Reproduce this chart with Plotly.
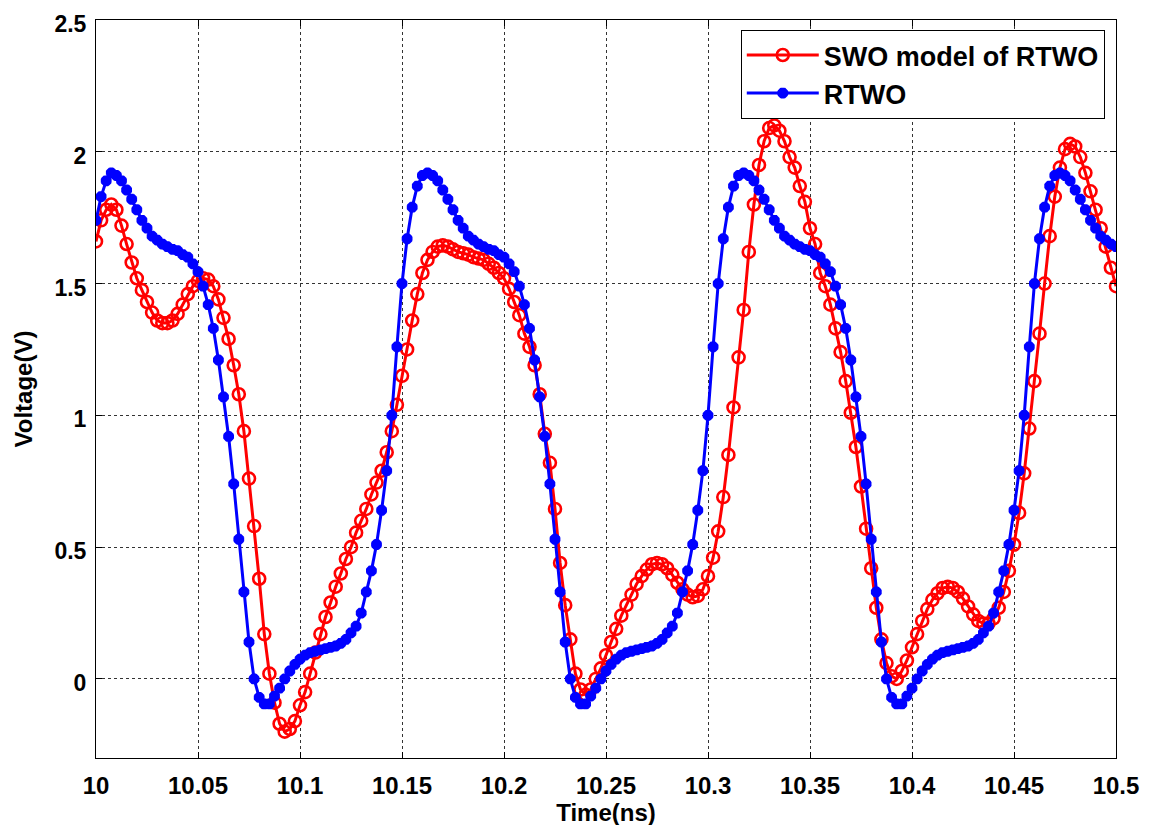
import numpy as np
import plotly.graph_objects as go

# time grid (ns): 10.000 .. 10.500 in steps of 0.0025
t_start = 10.0
t_step = 0.0025
n_pts = 201
time_ns = [round(t_start + i * t_step, 4) for i in range(n_pts)]

swo_model = [
    1.66, 1.74, 1.78, 1.80, 1.78, 1.72, 1.65, 1.58, 1.52, 1.475,
    1.43, 1.39, 1.36, 1.35, 1.35, 1.36, 1.385, 1.42, 1.46, 1.49,
    1.51, 1.52, 1.515, 1.49, 1.44, 1.37, 1.29, 1.19, 1.08, 0.94,
    0.76, 0.58, 0.38, 0.17, 0.02, -0.09, -0.17, -0.20, -0.19, -0.16,
    -0.10, -0.05, 0.02, 0.10, 0.17, 0.235, 0.29, 0.35, 0.40, 0.455,
    0.50, 0.555, 0.60, 0.645, 0.70, 0.745, 0.79, 0.86, 0.94, 1.04,
    1.15, 1.25, 1.36, 1.46, 1.54, 1.59, 1.62, 1.64, 1.645, 1.64,
    1.63, 1.62, 1.615, 1.61, 1.60, 1.595, 1.59, 1.575, 1.56, 1.54,
    1.52, 1.48, 1.43, 1.38, 1.31, 1.26, 1.19, 1.08, 0.93, 0.82,
    0.645, 0.44, 0.28, 0.15, 0.02, -0.04, -0.06, -0.04, 0.0, 0.04,
    0.09, 0.14, 0.19, 0.24, 0.28, 0.32, 0.36, 0.39, 0.415, 0.435,
    0.44, 0.435, 0.42, 0.395, 0.365, 0.34, 0.32, 0.31, 0.315, 0.34,
    0.39, 0.46, 0.56, 0.69, 0.85, 1.03, 1.22, 1.40, 1.62, 1.80,
    1.95, 2.04, 2.09, 2.10, 2.08, 2.04, 1.98, 1.94, 1.87, 1.81,
    1.71, 1.65, 1.54, 1.49, 1.42, 1.33, 1.24, 1.13, 1.01, 0.88,
    0.73, 0.57, 0.42, 0.27, 0.15, 0.06, 0.01, 0.0, 0.03, 0.07,
    0.12, 0.17, 0.22, 0.265, 0.30, 0.325, 0.345, 0.35, 0.345, 0.33,
    0.305, 0.275, 0.245, 0.22, 0.21, 0.21, 0.23, 0.27, 0.33, 0.41,
    0.51, 0.63, 0.78, 0.95, 1.13, 1.31, 1.50, 1.68, 1.83, 1.94,
    2.01, 2.03, 2.02, 1.98, 1.92, 1.85, 1.78, 1.71, 1.64, 1.56,
    1.49,
]

rtwo = [
    1.74, 1.83, 1.89,
    1.92, 1.91, 1.89, 1.855, 1.82, 1.78, 1.74, 1.71, 1.68, 1.665,
    1.65, 1.64, 1.63, 1.625, 1.61, 1.60, 1.575, 1.545, 1.49, 1.42,
    1.33, 1.21, 1.07, 0.92, 0.74, 0.53, 0.33, 0.14, 0.0, -0.07,
    -0.095, -0.095, -0.065, -0.035, 0.0, 0.03, 0.055, 0.075, 0.09, 0.10,
    0.105, 0.11, 0.115, 0.12, 0.125, 0.135, 0.15, 0.175, 0.20, 0.25,
    0.33, 0.41, 0.51, 0.64, 0.79, 1.00, 1.26, 1.50, 1.67, 1.79,
    1.87, 1.91,
    1.92, 1.91, 1.89, 1.855, 1.82, 1.78, 1.74, 1.71, 1.68, 1.665,
    1.65, 1.64, 1.63, 1.625, 1.61, 1.60, 1.575, 1.545, 1.49, 1.42,
    1.33, 1.21, 1.07, 0.92, 0.74, 0.53, 0.33, 0.14, 0.0, -0.07,
    -0.095, -0.095, -0.065, -0.035, 0.0, 0.03, 0.055, 0.075, 0.09, 0.10,
    0.105, 0.11, 0.115, 0.12, 0.125, 0.135, 0.15, 0.175, 0.20, 0.25,
    0.33, 0.41, 0.51, 0.64, 0.79, 1.00, 1.26, 1.50, 1.67, 1.79,
    1.87, 1.91,
    1.92, 1.91, 1.89, 1.855, 1.82, 1.78, 1.74, 1.71, 1.68, 1.665,
    1.65, 1.64, 1.63, 1.625, 1.61, 1.60, 1.575, 1.545, 1.49, 1.42,
    1.33, 1.21, 1.07, 0.92, 0.74, 0.53, 0.33, 0.14, 0.0, -0.07,
    -0.095, -0.095, -0.065, -0.035, 0.0, 0.03, 0.055, 0.075, 0.09, 0.10,
    0.105, 0.11, 0.115, 0.12, 0.125, 0.135, 0.15, 0.175, 0.20, 0.25,
    0.33, 0.41, 0.51, 0.64, 0.79, 1.00, 1.26, 1.50, 1.67, 1.79,
    1.87, 1.91,
    1.92, 1.91, 1.89, 1.855, 1.82, 1.78, 1.74, 1.71, 1.68, 1.665,
    1.65, 1.64,
]

x_ticks = [10, 10.05, 10.1, 10.15, 10.2, 10.25, 10.3, 10.35, 10.4, 10.45, 10.5]
x_tick_labels = ["10", "10.05", "10.1", "10.15", "10.2", "10.25", "10.3", "10.35", "10.4", "10.45", "10.5"]
y_ticks = [0, 0.5, 1, 1.5, 2, 2.5]
y_tick_labels = ["0", "0.5", "1", "1.5", "2", "2.5"]

FONT = "Liberation Sans, Arial, Helvetica, sans-serif"

fig = go.Figure()
fig.add_trace(go.Scatter(
    x=time_ns, y=swo_model, mode="lines+markers", name="SWO model of RTWO",
    line=dict(color="#ff0000", width=3),
    marker=dict(symbol="circle-open", size=12, color="#ff0000", line=dict(width=2.6, color="#ff0000")),
))
fig.add_trace(go.Scatter(
    x=time_ns, y=rtwo, mode="lines+markers", name="RTWO",
    line=dict(color="#0000ff", width=3),
    marker=dict(symbol="asterisk-open", size=9, color="#0000ff", line=dict(width=4, color="#0000ff")),
))

axis_common = dict(
    showline=True, linecolor="black", linewidth=1, mirror="ticks",
    ticks="inside", ticklen=6, tickcolor="black",
    showgrid=True, gridcolor="rgba(0,0,0,0.8)", griddash="dot", gridwidth=1,
    zeroline=False, automargin=False,
    ticklabeloverflow="allow",
)

fig.update_xaxes(
    range=[10, 10.5], tickvals=x_ticks, ticktext=x_tick_labels,
    tickfont=dict(family=FONT, size=24, color="black", weight="bold"),
    title=dict(text="Time(ns)", font=dict(family=FONT, size=24, color="black", weight="bold"), standoff=0),
    ticklabelstandoff=6,
    **axis_common,
)
fig.update_yaxes(
    range=[-0.3, 2.5], tickvals=y_ticks, ticktext=y_tick_labels,
    tickfont=dict(family=FONT, size=23, color="black", weight="bold"),
    title=dict(text="Voltage(V)", font=dict(family=FONT, size=24, color="black", weight="bold"), standoff=15),
    ticklabelstandoff=4, ticklabelshift=4,
    **axis_common,
)

fig.update_layout(
    width=1152, height=825,
    margin=dict(l=88, r=44, t=12, b=75, autoexpand=False),
    plot_bgcolor="white", paper_bgcolor="white",
    showlegend=True,
    legend=dict(
        x=0.989, y=0.9865, xanchor="right", yanchor="top",
        bgcolor="white", bordercolor="black", borderwidth=1,
        font=dict(family=FONT, size=27, color="black", weight="bold"),
        itemwidth=72, tracegroupgap=0,
    ),
)

fig.write_html("out.html")
